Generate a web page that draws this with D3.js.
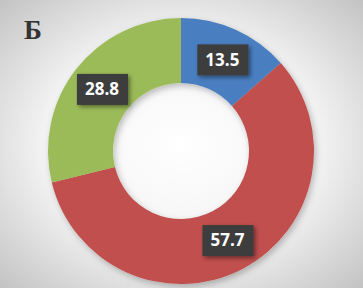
<!doctype html>
<html lang="ru">
<head>
<meta charset="utf-8">
<script src="https://d3js.org/d3.v7.min.js"></script>
<style>
  body { margin: 0; }
</style>
</head>
<body>
<script>
  var categories = ["A", "B", "C"];
  var values = [13.5, 57.7, 28.8];
  var colors = ["#4a7ec0", "#c0504d", "#9bbb59"];
  var title = "Б";

  var width = 363, height = 288;
  var cx = 181, cy = 151, outerR = 133, innerR = 68;

  var svg = d3.select("body").append("svg")
    .attr("width", width)
    .attr("height", height);

  var defs = svg.append("defs");
  var grad = defs.append("radialGradient")
    .attr("id", "bg")
    .attr("cx", "50%").attr("cy", "50%").attr("r", "70%");
  grad.append("stop").attr("offset", "0%").attr("stop-color", "#ffffff");
  grad.append("stop").attr("offset", "55%").attr("stop-color", "#f2f2f2");
  grad.append("stop").attr("offset", "100%").attr("stop-color", "#c4c4c4");

  var shadow = defs.append("filter").attr("id", "shadow")
    .attr("x", "-20%").attr("y", "-20%").attr("width", "140%").attr("height", "140%");
  shadow.append("feDropShadow")
    .attr("dx", 2).attr("dy", 2).attr("stdDeviation", 2)
    .attr("flood-color", "#000").attr("flood-opacity", 0.45);

  var ringShadow = defs.append("filter").attr("id", "ringShadow")
    .attr("x", "-10%").attr("y", "-10%").attr("width", "120%").attr("height", "120%");
  ringShadow.append("feDropShadow")
    .attr("dx", 2).attr("dy", 3).attr("stdDeviation", 3)
    .attr("flood-color", "#000").attr("flood-opacity", 0.25);

  svg.append("rect")
    .attr("width", width).attr("height", height)
    .attr("fill", "url(#bg)");

  svg.append("text")
    .attr("x", 24).attr("y", 39)
    .attr("font-family", "'Liberation Serif', 'DejaVu Serif', serif")
    .attr("font-weight", "bold")
    .attr("font-size", 27)
    .attr("fill", "#333")
    .text(title);

  var pie = d3.pie().sort(null).value(d => d);
  var arc = d3.arc().innerRadius(innerR).outerRadius(outerR);
  var mid = d3.arc().innerRadius((innerR + outerR) / 2).outerRadius((innerR + outerR) / 2);

  var g = svg.append("g").attr("transform", "translate(" + cx + "," + cy + ")");

  g.append("g").attr("filter", "url(#ringShadow)")
    .selectAll("path")
    .data(pie(values))
    .enter().append("path")
    .attr("d", arc)
    .attr("fill", (d, i) => colors[i]);

  var labels = g.selectAll(".lbl")
    .data(pie(values))
    .enter().append("g")
    .attr("class", "lbl")
    .attr("transform", d => "translate(" + mid.centroid(d) + ")");

  labels.append("rect")
    .attr("x", -25).attr("y", -15)
    .attr("width", 51).attr("height", 31)
    .attr("fill", "#3c3c3c")
    .attr("filter", "url(#shadow)");

  labels.append("text")
    .attr("text-anchor", "middle")
    .attr("dy", "0.36em")
    .attr("font-family", "'Open Sans', sans-serif")
    .attr("font-weight", "bold")
    .attr("font-size", 17)
    .attr("fill", "#fff")
    .text(d => d.data.toFixed(1));
</script>
</body>
</html>
